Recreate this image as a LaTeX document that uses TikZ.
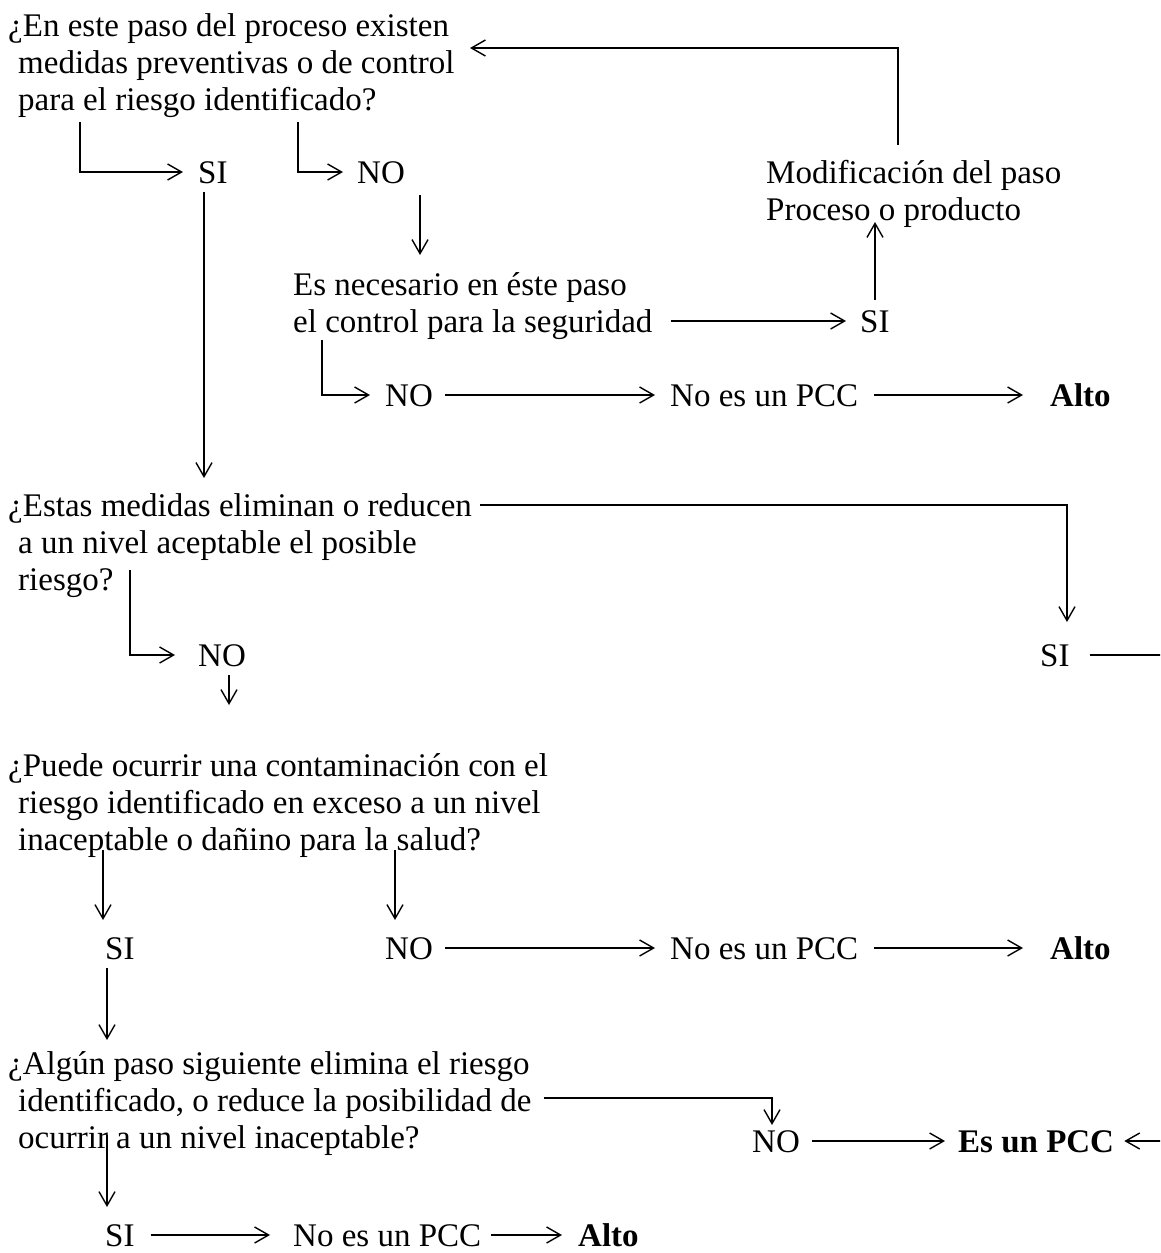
\documentclass[tikz,border=0pt]{standalone}
\usepackage{fontspec}
\setmainfont{Liberation Serif}
\usetikzlibrary{arrows.meta}
\begin{document}
\begin{tikzpicture}[x=1pt,y=-1pt,
  txt/.style={inner sep=0pt, anchor=west, text height=22pt, text depth=0pt,
              font=\fontsize{33}{37}\selectfont},
  txtb/.style={txt, font=\fontsize{33}{37}\selectfont\bfseries},
  ln/.style={line width=1.4pt},
  arr/.style={ln, -{Straight Barb[length=14pt,width=16pt]}}]
\useasboundingbox (0,0) rectangle (1160,1253);
\clip (0,0) rectangle (1160,1253);
\fill[white] (0,0) rectangle (1160,1253);

% first question
\node[txt] (q1a) at (8,25)  {¿En este paso del proceso existen};
\node[txt] (q1b) at (18,62) {medidas preventivas o de control};
\node[txt] (q1c) at (18,99) {para el riesgo identificado?};
\node[txt] (si1) at (198,172) {SI};
\node[txt] (no1) at (357,172) {NO};
\node[txt] (mod1) at (766,172) {Modificación del paso};
\node[txt] (mod2) at (766,209) {Proceso o producto};
\node[txt] (nec1) at (293,284) {Es necesario en éste paso};
\node[txt] (nec2) at (293,321) {el control para la seguridad};
\node[txt] (si2) at (860,321) {SI};
\node[txt] (no2) at (385,395) {NO};
\node[txt] (npcc1) at (670,395) {No es un PCC};
\node[txtb] (alto1) at (1050,395) {Alto};

% second question
\node[txt] (q2a) at (8,505)  {¿Estas medidas eliminan o reducen};
\node[txt] (q2b) at (18,542) {a un nivel aceptable el posible};
\node[txt] (q2c) at (18,579) {riesgo?};
\node[txt] (no3) at (198,655) {NO};
\node[txt] (si3) at (1040,655) {SI};

% third question
\node[txt] (q3a) at (8,765)  {¿Puede ocurrir una contaminación con el};
\node[txt] (q3b) at (18,802) {riesgo identificado en exceso a un nivel};
\node[txt] (q3c) at (18,839) {inaceptable o dañino para la salud?};
\node[txt] (si4) at (105,948) {SI};
\node[txt] (no4) at (385,948) {NO};
\node[txt] (npcc2) at (670,948) {No es un PCC};
\node[txtb] (alto2) at (1050,948) {Alto};

% fourth question
\node[txt] (q4a) at (8,1063)  {¿Algún paso siguiente elimina el riesgo};
\node[txt] (q4b) at (18,1100) {identificado, o reduce la posibilidad de};
\node[txt] (q4c) at (18,1137) {ocurrir a un nivel inaceptable?};
\node[txt] (no5) at (752,1141) {NO};
\node[txtb] (pcc) at (958,1141) {Es un PCC};
\node[txt] (si5) at (105,1235) {SI};
\node[txt] (npcc3) at (293,1235) {No es un PCC};
\node[txtb] (alto3) at (578,1235) {Alto};

% free ends and bends
\coordinate (q1s) at (80,122);
\coordinate (q1n) at (298,122);
\coordinate (si1d) at (204,192);
\coordinate (q2in) at (204,478);
\coordinate (no1d) at (420,195);
\coordinate (nec1in) at (420,255);
\coordinate (si2u) at (875,300);
\coordinate (mod2in) at (875,222);
\coordinate (nec2n) at (322,340);
\coordinate (modu) at (898,145);
\coordinate (q1in) at (470,48);
\coordinate (si3in) at (1067,622);
\coordinate (edge) at (1180,1141);
\coordinate (q2n) at (130,570);
\coordinate (no3d) at (229,675);
\coordinate (q3in) at (229,705);
\coordinate (q3s) at (103,850);
\coordinate (q3n) at (395,850);
\coordinate (si4in) at (103,920);
\coordinate (no4in) at (395,920);
\coordinate (si4d) at (107,968);
\coordinate (q4in) at (107,1040);
\coordinate (no5in) at (772,1125);
\coordinate (q4s) at (107,1135);
\coordinate (si5in) at (107,1207);

% connectors
\draw[arr, shorten >=15pt] (q1s) |- (si1.west);
\draw[arr, shorten >=14pt] (q1n) |- (no1.west);
\draw[arr] (si1d) -- (q2in);
\draw[arr] (no1d) -- (nec1in);
\draw[arr, shorten >=14pt] ([xshift=18pt]nec2.east) -- (si2.west);
\draw[arr] (si2u) -- (mod2in);
\draw[arr] (modu) |- (q1in);
\draw[arr, shorten >=15pt] (nec2n) |- (no2.west);
\draw[arr, shorten >=15pt] ([xshift=12pt]no2.east) -- (npcc1.west);
\draw[arr, shorten >=27pt] ([xshift=16pt]npcc1.east) -- (alto1.west);

\draw[arr] ([xshift=8pt]q2a.east) -| (si3in);
% runs out past the right edge and comes back into "Es un PCC"
\draw[arr] ([xshift=20pt]si3.east) -| (edge) -- ([xshift=10pt]pcc.east);
\draw[arr, shorten >=23pt] (q2n) |- (no3.west);
\draw[arr] (no3d) -- (q3in);

\draw[arr] (q3s) -- (si4in);
\draw[arr] (q3n) -- (no4in);
\draw[arr, shorten >=15pt] ([xshift=12pt]no4.east) -- (npcc2.west);
\draw[arr, shorten >=27pt] ([xshift=16pt]npcc2.east) -- (alto2.west);
\draw[arr] (si4d) -- (q4in);

\draw[arr] ([xshift=12pt,yshift=2pt]q4b.east) -| (no5in);
\draw[arr, shorten >=13pt] ([xshift=12pt]no5.east) -- (pcc.west);
\draw[arr] (q4s) -- (si5in);
\draw[arr, shorten >=23pt] ([xshift=16pt]si5.east) -- (npcc3.west);
\draw[arr, shorten >=16pt] ([xshift=10pt]npcc3.east) -- (alto3.west);
\end{tikzpicture}
\end{document}
